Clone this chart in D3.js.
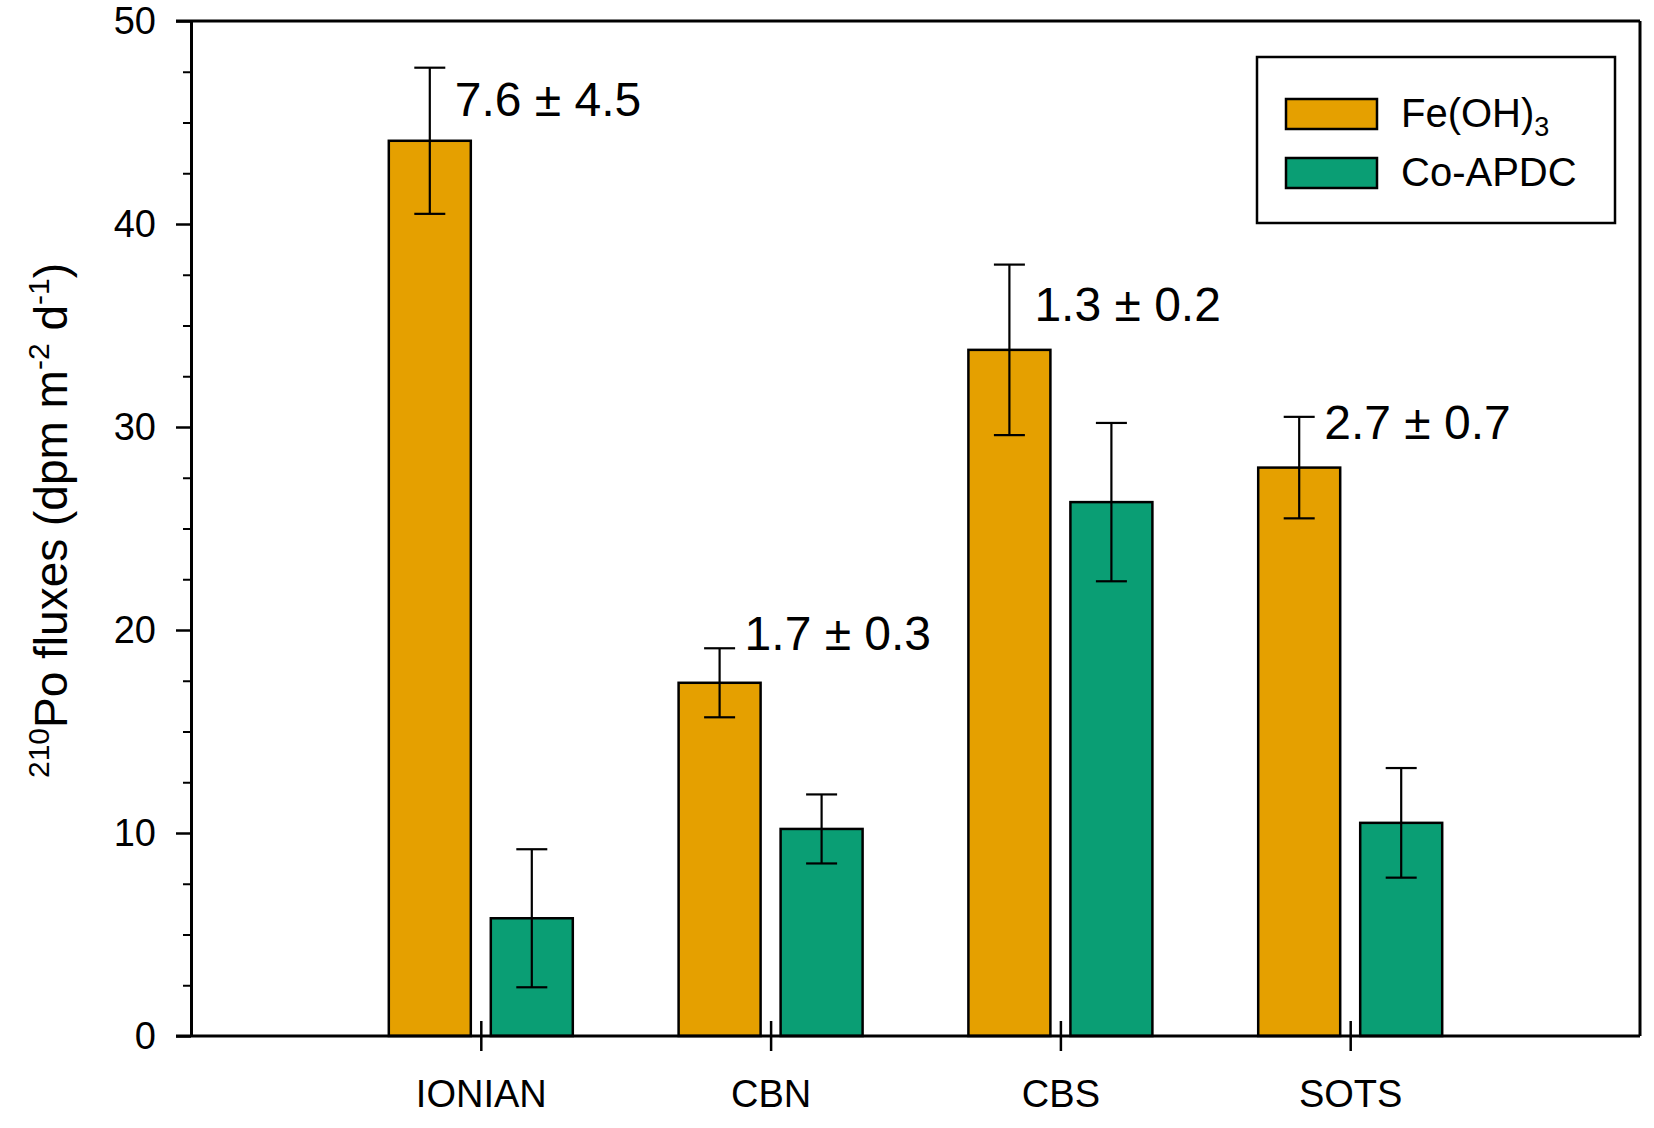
<!DOCTYPE html>
<html>
<head>
<meta charset="utf-8">
<script src="https://cdn.jsdelivr.net/npm/d3@7"></script>
<style>
  html, body { margin: 0; padding: 0; background: #fff; }
  svg { display: block; font-family: "Liberation Sans", Arial, sans-serif; }
</style>
</head>
<body>
<svg id="chart" width="1654" height="1128"></svg>
<script>
// ---- data ----
const categories = ["IONIAN", "CBN", "CBS", "SOTS"];
const seriesNames = ["Fe(OH)3", "Co-APDC"];
const feValues = [44.1, 17.4, 33.8, 28.0];
const feErrors = [3.6, 1.7, 4.2, 2.5];
const coValues = [5.8, 10.2, 26.3, 10.5];
const coErrors = [3.4, 1.7, 3.9, 2.7];
const ratioLabels = ["7.6 \u00b1 4.5", "1.7 \u00b1 0.3", "1.3 \u00b1 0.2", "2.7 \u00b1 0.7"];
const ratioLabelY = [45.3, 19.0, 35.2, 29.4];
const yTicks = [0, 10, 20, 30, 40, 50];
const yMinorTicks = [2.5, 5, 7.5, 12.5, 15, 17.5, 22.5, 25, 27.5, 32.5, 35, 37.5, 42.5, 45, 47.5];
const colors = { fe: "#E5A000", co: "#0A9E74" };

// ---- layout ----
const svg = d3.select("#chart");
const L = 191, R = 1640, T = 21, B = 1036;
const barW = 82, barGap = 10;

const y = d3.scaleLinear().domain([0, 50]).range([B, T]);
const x = d3.scalePoint().domain(categories).range([L, R]).padding(1);

// bars
const g = svg.append("g");
const feData = categories.map((c, i) => ({ c, v: feValues[i], e: feErrors[i], off: -(barGap + barW), color: colors.fe }));
const coData = categories.map((c, i) => ({ c, v: coValues[i], e: coErrors[i], off: barGap, color: colors.co }));
const all = feData.concat(coData);

g.selectAll("rect.bar").data(all).join("rect")
  .attr("class", "bar")
  .attr("x", d => x(d.c) + d.off)
  .attr("y", d => y(d.v))
  .attr("width", barW)
  .attr("height", d => y(0) - y(d.v))
  .attr("fill", d => d.color)
  .attr("stroke", "#000")
  .attr("stroke-width", 2.5);

// error bars
const capW = 31;
all.forEach(d => {
  const cx = x(d.c) + d.off + barW / 2;
  g.append("line").attr("x1", cx).attr("x2", cx).attr("y1", y(d.v + d.e)).attr("y2", y(d.v - d.e))
    .attr("stroke", "#000").attr("stroke-width", 2.2);
  [d.v + d.e, d.v - d.e].forEach(v => {
    g.append("line").attr("x1", cx - capW / 2).attr("x2", cx + capW / 2).attr("y1", y(v)).attr("y2", y(v))
      .attr("stroke", "#000").attr("stroke-width", 2.2);
  });
});

// ratio labels
g.selectAll("text.ratio").data(categories).join("text")
  .attr("class", "ratio")
  .attr("x", c => x(c) - barGap - barW / 2 + 25)
  .attr("y", (c, i) => y(ratioLabelY[i]))
  .attr("font-size", 48)
  .attr("fill", "#000")
  .text((c, i) => ratioLabels[i]);

// frame
const frame = svg.append("g").attr("stroke", "#000").attr("stroke-width", 3).attr("fill", "none");
frame.append("line").attr("x1", L - 15).attr("x2", R).attr("y1", T).attr("y2", T);
frame.append("line").attr("x1", R).attr("x2", R).attr("y1", T).attr("y2", B);

// y axis
const yAxis = svg.append("g").attr("transform", `translate(${L},0)`)
  .call(d3.axisLeft(y).tickValues(yTicks).tickSize(15).tickSizeOuter(0).tickPadding(20).tickFormat(d3.format("d")));
yAxis.select(".domain").attr("stroke-width", 3);
yAxis.selectAll(".tick line").attr("stroke-width", 2.5);
yAxis.selectAll(".tick text").attr("font-size", 38).attr("fill", "#000").attr("font-family", "Liberation Sans, Arial, sans-serif");

const yMinor = svg.append("g").attr("transform", `translate(${L},0)`)
  .call(d3.axisLeft(y).tickValues(yMinorTicks).tickSize(8).tickSizeOuter(0).tickFormat(""));
yMinor.select(".domain").remove();
yMinor.selectAll(".tick line").attr("stroke-width", 2);

// x axis
const xAxis = svg.append("g").attr("transform", `translate(0,${B})`)
  .call(d3.axisBottom(x).tickSize(15).tickSizeOuter(0).tickPadding(29));
xAxis.select(".domain").attr("d", `M${L - 15},0H${R}`).attr("stroke-width", 3);
xAxis.selectAll(".tick line").attr("y1", -15).attr("y2", 15).attr("stroke-width", 2.5);
xAxis.selectAll(".tick text").attr("font-size", 38).attr("fill", "#000").attr("font-family", "Liberation Sans, Arial, sans-serif");

// y axis title
const yt = svg.append("text")
  .attr("transform", `translate(67,${(T + B) / 2 - 8}) rotate(-90)`)
  .attr("text-anchor", "middle")
  .attr("font-size", 46)
  .attr("fill", "#000");
yt.append("tspan").attr("font-size", 30).attr("dy", -18).text("210");
yt.append("tspan").attr("dy", 18).text("Po fluxes (dpm m");
yt.append("tspan").attr("font-size", 30).attr("dy", -18).text("-2");
yt.append("tspan").attr("dy", 18).text(" d");
yt.append("tspan").attr("font-size", 30).attr("dy", -18).text("-1");
yt.append("tspan").attr("dy", 18).text(")");

// legend
const lg = svg.append("g");
lg.append("rect").attr("x", 1257).attr("y", 57).attr("width", 358).attr("height", 166)
  .attr("fill", "#fff").attr("stroke", "#000").attr("stroke-width", 2.5);
const legendItems = [
  { name: seriesNames[0], color: colors.fe },
  { name: seriesNames[1], color: colors.co }
];
legendItems.forEach((d, i) => {
  const yy = 99 + i * 59;
  lg.append("rect").attr("x", 1286).attr("y", yy).attr("width", 91).attr("height", 30)
    .attr("fill", d.color).attr("stroke", "#000").attr("stroke-width", 2.5);
  const t = lg.append("text").attr("x", 1401).attr("y", yy + 28).attr("font-size", 40).attr("fill", "#000");
  if (d.name === "Fe(OH)3") {
    t.append("tspan").text("Fe(OH)");
    t.append("tspan").attr("font-size", 27).attr("dy", 9).text("3");
  } else {
    t.text(d.name);
  }
});
</script>
</body>
</html>
